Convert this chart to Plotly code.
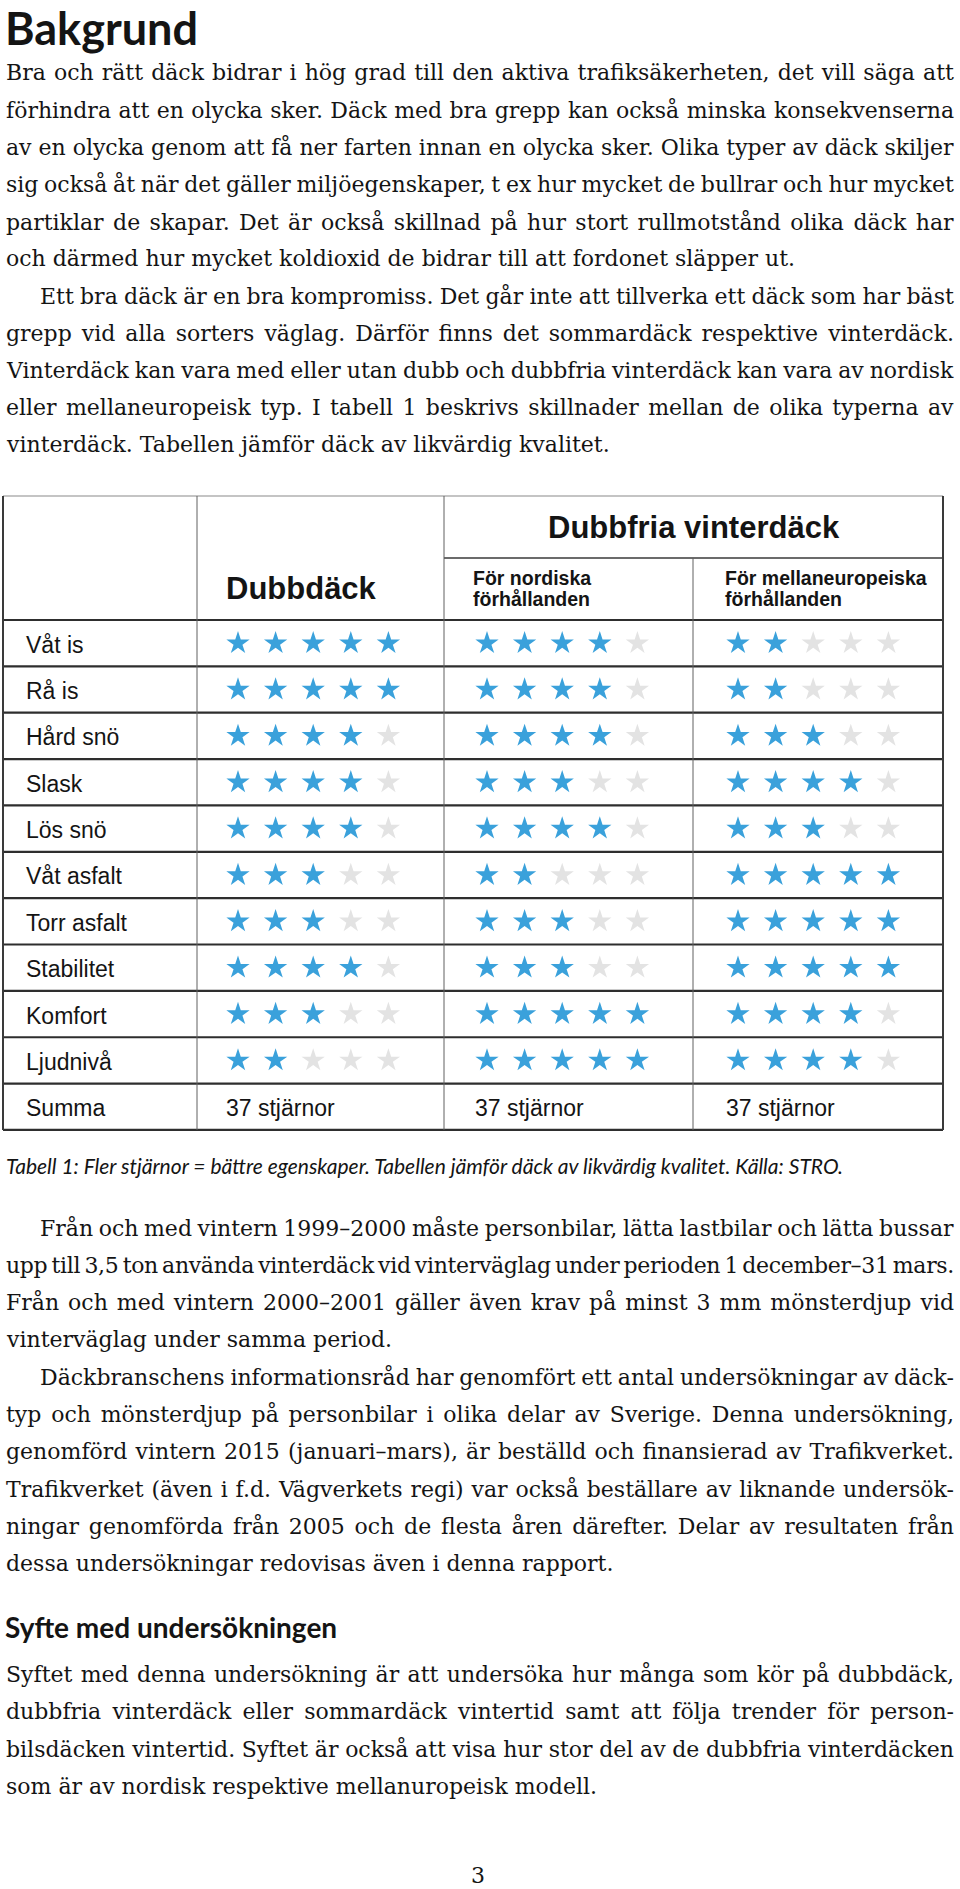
import json
import plotly.graph_objects as go

W, H = 960, 1889

# ---------------- data ----------------
properties = ["Våt is", "Rå is", "Hård snö", "Slask", "Lös snö", "Våt asfalt",
              "Torr asfalt", "Stabilitet", "Komfort", "Ljudnivå"]
stars_dubbdack = [5, 5, 4, 4, 4, 3, 3, 4, 3, 2]
stars_nordiska = [4, 4, 4, 3, 4, 2, 3, 3, 5, 5]
stars_mellaneuropeiska = [2, 2, 3, 4, 3, 5, 5, 5, 4, 4]
max_stars = 5
summa_label = "Summa"
group_header = "Dubbfria vinterdäck"
col_header_dubb = "Dubbdäck"
col_header_nord = ["För nordiska", "förhållanden"]
col_header_mell = ["För mellaneuropeiska", "förhållanden"]
caption = ("Tabell 1: Fler stjärnor = bättre egenskaper. Tabellen jämför däck av "
           "likvärdig kvalitet. Källa: STRO.")
heading1 = "Bakgrund"
heading2 = "Syfte med undersökningen"
page_number = "3"

para1 = [
    "Bra och rätt däck bidrar i hög grad till den aktiva trafiksäkerheten, det vill säga att",
    "förhindra att en olycka sker. Däck med bra grepp kan också minska konsekvenserna",
    "av en olycka genom att få ner farten innan en olycka sker. Olika typer av däck skiljer",
    "sig också åt när det gäller miljöegenskaper, t ex hur mycket de bullrar och hur mycket",
    "partiklar de skapar. Det är också skillnad på hur stort rullmotstånd olika däck har",
    "och därmed hur mycket koldioxid de bidrar till att fordonet släpper ut.",
]
para2 = [
    "Ett bra däck är en bra kompromiss. Det går inte att tillverka ett däck som har bäst",
    "grepp vid alla sorters väglag. Därför finns det sommardäck respektive vinterdäck.",
    "Vinterdäck kan vara med eller utan dubb och dubbfria vinterdäck kan vara av nordisk",
    "eller mellaneuropeisk typ. I tabell 1 beskrivs skillnader mellan de olika typerna av",
    "vinterdäck. Tabellen jämför däck av likvärdig kvalitet.",
]
para3 = [
    "Från och med vintern 1999–2000 måste personbilar, lätta lastbilar och lätta bussar",
    "upp till 3,5 ton använda vinterdäck vid vinterväglag under perioden 1 december–31 mars.",
    "Från och med vintern 2000–2001 gäller även krav på minst 3 mm mönsterdjup vid",
    "vinterväglag under samma period.",
]
para4 = [
    "Däckbranschens informationsråd har genomfört ett antal undersökningar av däck-",
    "typ och mönsterdjup på personbilar i olika delar av Sverige. Denna undersökning,",
    "genomförd vintern 2015 (januari–mars), är beställd och finansierad av Trafikverket.",
    "Trafikverket (även i f.d. Vägverkets regi) var också beställare av liknande undersök-",
    "ningar genomförda från 2005 och de flesta åren därefter. Delar av resultaten från",
    "dessa undersökningar redovisas även i denna rapport.",
]
para5 = [
    "Syftet med denna undersökning är att undersöka hur många som kör på dubbdäck,",
    "dubbfria vinterdäck eller sommardäck vintertid samt att följa trender för person-",
    "bilsdäcken vintertid. Syftet är också att visa hur stor del av de dubbfria vinterdäcken",
    "som är av nordisk respektive mellanuropeisk modell.",
]

# ---------------- layout constants ----------------
BLUE = "#3aa1db"
GREY = "#e3e3e3"
TXT = "#141414"
SERIF = "DejaVu Serif"
SANS = "Liberation Sans"
HEAD = "Lato"
BODY_SIZE = 22
LINE_PITCH = 37.2
BASE_TO_MID = 7.8
LEFT = 6
INDENT = 40
RIGHT_EDGE = 954

t_left, t_right = 3, 943
col_lines = [197, 444, 693]
t_top, t_sub, t_head = 496, 558, 620
row_h = 46.36
n_rows = len(properties) + 1
t_bottom = t_head + row_h * n_rows
star_x0 = [238, 487, 738]
star_dx = 37.6

fig = go.Figure()

# ---------------- stars ----------------
fx, fy, ex, ey = [], [], [], []
for c, series in enumerate([stars_dubbdack, stars_nordiska, stars_mellaneuropeiska]):
    for r, v in enumerate(series):
        yc = t_head + row_h * (r + 0.5)
        for k in range(max_stars):
            xc = star_x0[c] + star_dx * k
            if k < v:
                fx.append(xc); fy.append(yc)
            else:
                ex.append(xc); ey.append(yc)
fig.add_trace(go.Scatter(x=ex, y=ey, mode="markers", hoverinfo="skip",
                         marker=dict(symbol="star", size=17.5, color=GREY, line=dict(width=0))))
fig.add_trace(go.Scatter(x=fx, y=fy, mode="markers", hoverinfo="skip",
                         marker=dict(symbol="star", size=17.5, color=BLUE, line=dict(width=0))))

# ---------------- table lines ----------------
shapes = []
def line(x0, y0, x1, y1, w, col):
    shapes.append(dict(type="line", xref="x", yref="y", x0=x0, y0=y0, x1=x1, y1=y1,
                       line=dict(color=col, width=w)))

line(t_left, t_top, t_right, t_top, 1.2, "#8a8a8a")
line(col_lines[1], t_sub, t_right, t_sub, 1.6, "#3a3a3a")
for i in range(n_rows):
    yy = t_head + row_h * i
    line(t_left, yy, t_right, yy, 2.2, "#2e2e2e")
line(t_left, t_bottom, t_right, t_bottom, 2.2, "#2e2e2e")
line(col_lines[0], t_top, col_lines[0], t_bottom, 1, "#606060")
line(col_lines[1], t_top, col_lines[1], t_bottom, 1, "#606060")
line(col_lines[2], t_sub, col_lines[2], t_bottom, 1, "#606060")
line(t_left, t_top, t_left, t_bottom, 2, "#3a3a3a")
line(t_right, t_top, t_right, t_bottom, 2, "#3a3a3a")

# ---------------- annotations ----------------
ann = []
justify = {}

def text(x, y, s, family, size, xanchor="left", weight="normal", style="normal",
         color=TXT, just=None, yanchor="middle"):
    ann.append(dict(x=x, y=y, xref="x", yref="y", text=s, showarrow=False,
                    xanchor=xanchor, yanchor=yanchor, align="left",
                    borderpad=0, borderwidth=0,
                    font=dict(family=family, size=size, color=color, weight=weight, style=style)))
    if just is not None:
        justify[str(len(ann) - 1)] = just

# headings
text(LEFT - 1, 0.5, heading1, HEAD, 45, weight="bold", yanchor="top")
text(LEFT - 1, 1627, heading2, HEAD, 28, weight="bold")

def paragraph(lines, base, indent, pitch=LINE_PITCH):
    for i, s in enumerate(lines):
        x = LEFT + (INDENT - LEFT if (indent and i == 0) else 0)
        last = (i == len(lines) - 1)
        text(x, base + pitch * i - BASE_TO_MID, s, SERIF, BODY_SIZE,
             just=None if last else RIGHT_EDGE - x)

paragraph(para1, 80.5, False)
paragraph(para2, 80.5 + 6 * LINE_PITCH, True)
paragraph(para3, 1235.5, True, 37.3)
paragraph(para4, 1235.5 + 4 * 37.3, True, 37.3)
paragraph(para5, 1682, False, 37.4)

# table header texts
text((col_lines[1] + t_right) / 2, 527.5, group_header, SANS, 31, xanchor="center", weight="bold")
text(star_x0[0] - 12, 588.5, col_header_dubb, SANS, 31, weight="bold")
for xx, lines2 in [(473, col_header_nord), (725, col_header_mell)]:
    text(xx, 578, lines2[0], SANS, 19.5, weight="bold")
    text(xx, 599, lines2[1], SANS, 19.5, weight="bold")

# row labels
for r, p in enumerate(properties + [summa_label]):
    text(26, t_head + row_h * (r + 0.5) + 1.5, p, SANS, 23)

# summa row
for c, series in enumerate([stars_dubbdack, stars_nordiska, stars_mellaneuropeiska]):
    text(star_x0[c] - 12, t_head + row_h * (n_rows - 0.5) + 1.5,
         f"{sum(series)} stjärnor", SANS, 23)

# caption and page number
text(LEFT, 1165, caption, HEAD, 21, style="italic")
text(478, 1875, page_number, SERIF, BODY_SIZE, xanchor="center")

fig.update_layout(
    width=W, height=H, margin=dict(l=0, r=0, t=0, b=0),
    paper_bgcolor="white", plot_bgcolor="white",
    showlegend=False, shapes=shapes, annotations=ann,
    xaxis=dict(range=[0, W], visible=False, fixedrange=True),
    yaxis=dict(range=[H, 0], visible=False, fixedrange=True),
)

post = """
(function(){
  document.documentElement.style.margin = '0';
  document.body.style.margin = '0';
  document.body.style.padding = '0';
  var gd = document.getElementById('{plot_id}');
  var JUST = %s;
  function justify(){
    var gs = gd.querySelectorAll('g.annotation');
    for (var i = 0; i < gs.length; i++) {
      var g = gs[i];
      var idx = g.getAttribute('data-index');
      if (!(idx in JUST)) continue;
      var t = g.querySelector('text.annotation-text');
      if (!t) continue;
      t.style.wordSpacing = ''; t.style.letterSpacing = '';
      var nat = t.getBBox().width;
      var txt = t.textContent;
      var ns = (txt.match(/ /g) || []).length;
      if (!ns) continue;
      var target = JUST[idx];
      var ws = (target - nat) / ns;
      var ls = 0;
      if (ws < -2.5) {
        ls = (target - nat + 2.5 * ns) / (txt.length - 1);
        ws = -2.5;
      }
      if (ls) t.style.letterSpacing = ls + 'px';
      t.style.wordSpacing = ws + 'px';
      for (var it = 0; it < 2; it++) {
        var w = t.getBBox().width;
        ws += (target - w) / ns;
        t.style.wordSpacing = ws + 'px';
      }
    }
  }
  justify();
  if (gd.on) gd.on('plotly_afterplot', justify);
})();
""" % json.dumps(justify)

fig.write_html("out.html", post_script=post, config={"displayModeBar": False})
